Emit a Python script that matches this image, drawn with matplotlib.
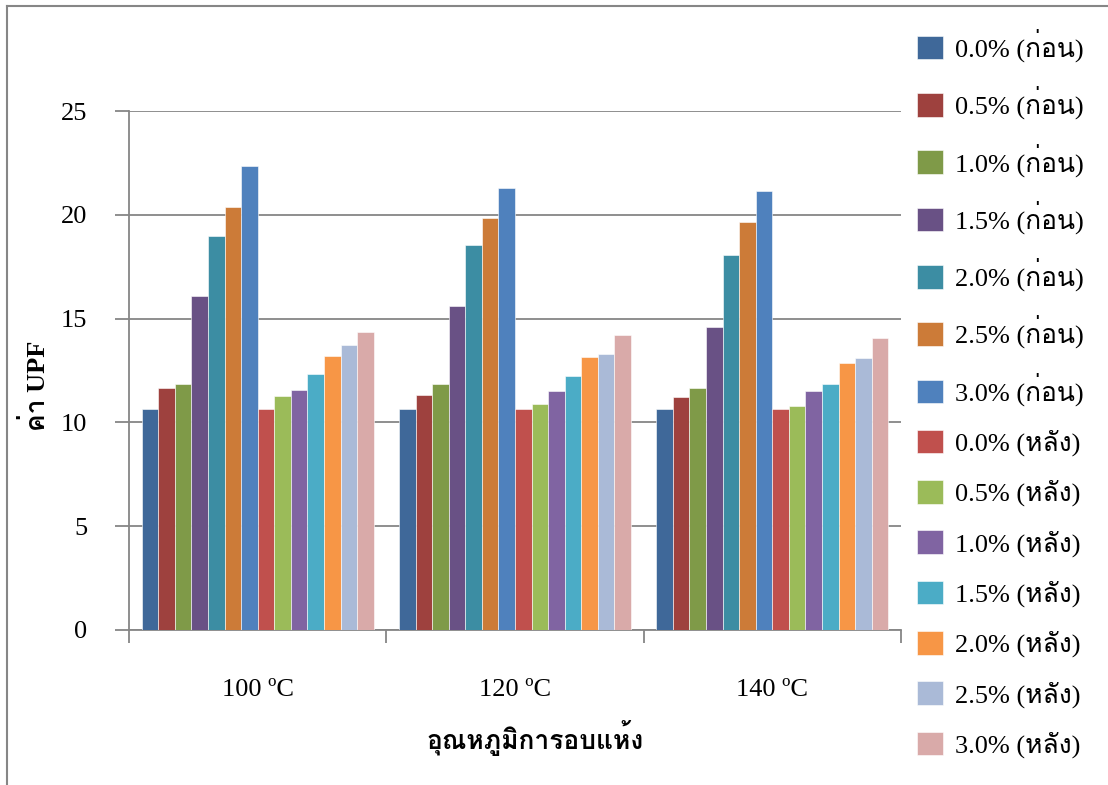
import numpy as np
import matplotlib
matplotlib.use("Agg")
import matplotlib.pyplot as plt
from matplotlib import font_manager
from matplotlib.ft2font import FT2Font
from matplotlib.lines import Line2D

# find some installed font that has Thai glyphs
thai_font = None
for f in font_manager.fontManager.ttflist:
    try:
        if 0x0E01 in FT2Font(f.fname).get_charmap():
            thai_font = f.name
            break
    except Exception:
        pass
families = ["Liberation Serif"] + ([thai_font] if thai_font else []) + ["DejaVu Sans"]
plt.rcParams["font.family"] = families

categories = ["100 ºC", "120 ºC", "140 ºC"]
series_names = ["0.0% (ก่อน)", "0.5% (ก่อน)", "1.0% (ก่อน)", "1.5% (ก่อน)",
                "2.0% (ก่อน)", "2.5% (ก่อน)", "3.0% (ก่อน)",
                "0.0% (หลัง)", "0.5% (หลัง)", "1.0% (หลัง)", "1.5% (หลัง)",
                "2.0% (หลัง)", "2.5% (หลัง)", "3.0% (หลัง)"]
# one list per temperature, in series order
upf_100 = [10.65, 11.66, 11.85, 16.07, 18.96, 20.36, 22.33,
           10.66, 11.26, 11.58, 12.35, 13.20, 13.71, 14.35]
upf_120 = [10.65, 11.30, 11.85, 15.61, 18.53, 19.86, 21.27,
           10.66, 10.87, 11.51, 12.24, 13.17, 13.31, 14.21]
upf_140 = [10.65, 11.21, 11.66, 14.58, 18.08, 19.64, 21.15,
           10.66, 10.79, 11.51, 11.86, 12.86, 13.12, 14.07]
colors = ["#3F6899", "#9E413E", "#7F9A48", "#695185", "#3C8DA3", "#CC7B38", "#4F81BD",
          "#C0504D", "#9BBB59", "#8064A2", "#4BACC6", "#F79646", "#AABAD7", "#D9AAA9"]

values = np.array([upf_100, upf_120, upf_140])  # shape (3, 14)

W, H = 1108, 785
fig = plt.figure(figsize=(W / 100, H / 100), dpi=100)
# chart frame (only top and left visible in the reference)
fig.add_artist(Line2D([7 / W, 1], [1 - 6 / H, 1 - 6 / H], color="#868686", lw=1.5))
fig.add_artist(Line2D([7 / W, 7 / W], [0, 1 - 6 / H], color="#868686", lw=1.5))

ax = fig.add_axes([129 / W, (H - 630) / H, (901 - 129) / W, (630 - 111) / H])

n = len(series_names)
x = np.arange(len(categories))
group_w = 0.902
bw = group_w / n
for i in range(n):
    ax.bar(x - group_w / 2 + bw * (i + 0.5), values[:, i], width=bw,
           color=colors[i], edgecolor="white", linewidth=0.4, label=series_names[i], zorder=3)

ax.set_xlim(-0.5, len(categories) - 0.5)
ax.set_ylim(0, 25)
ax.set_yticks(range(0, 26, 5))
ax.grid(axis="y", color="#868686", lw=1.3, zorder=0)
for s in ["top", "right"]:
    ax.spines[s].set_visible(False)
for s in ["left", "bottom"]:
    ax.spines[s].set_color("#868686")
    ax.spines[s].set_linewidth(1.3)

ax.set_xticks(x)
ax.set_xticklabels(categories, fontsize=19)
ax.tick_params(axis="x", length=0, pad=35)
ax.set_xticks(np.arange(len(categories) + 1) - 0.5, minor=True)
ax.tick_params(axis="x", which="minor", length=9, width=1.3, color="#868686", direction="out")
ax.tick_params(axis="y", length=10, width=1.3, color="#868686", labelsize=19, pad=20)

ax.set_xlabel("อุณหภูมิการอบแห้ง", fontsize=19, fontweight="bold")
ax.xaxis.set_label_coords((535 - 129) / 772, (630 - 720) / 519)
ax.set_ylabel("ค่า UPF", fontsize=19, fontweight="bold")
ax.yaxis.set_label_coords((50 - 129) / 772, 0.47)

ax.legend(loc="upper left", bbox_to_anchor=(906 / W, 1 - 18 / H), bbox_transform=fig.transFigure,
          frameon=False, fontsize=19, handlelength=1.0, handleheight=1.0,
          handletextpad=0.45, labelspacing=0.905, borderaxespad=0)

fig.savefig("out.png", dpi=100)
